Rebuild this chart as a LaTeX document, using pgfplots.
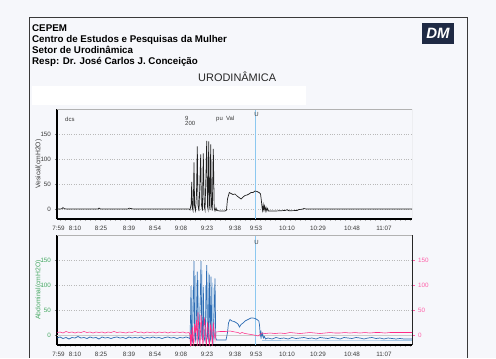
\documentclass[border=0pt]{standalone}
\usepackage{pgfplots}
\pgfplotsset{compat=1.18}
\usepackage{fontspec}
\setmainfont{Liberation Sans}
\definecolor{bg}{HTML}{F6F7FB}
\definecolor{framec}{HTML}{3A3A3A}
\definecolor{dtext}{HTML}{3A3A3A}
\definecolor{navy}{HTML}{1F2A44}
\definecolor{vesc}{HTML}{202020}
\definecolor{abdc}{HTML}{2E6DB4}
\definecolor{abdl}{HTML}{A6C8E8}
\definecolor{detc}{HTML}{FF2D87}
\definecolor{detl}{HTML}{FF5FA8}
\definecolor{greenl}{HTML}{45A862}
\definecolor{ucol}{HTML}{8CC8F0}
\pgfplotsset{
  common/.style={
    width=355bp, height=110bp, scale only axis,
    xmin=57, xmax=412, ymin=-20, ymax=200,
    ytick={0,50,100,150},
    tick label style={font=\fontsize{6.3}{7}\selectfont},
    /pgf/number format/assume math mode=true,
    tick align=outside,
    major tick length=2.5bp,
  },
  xaxisstyle/.style={
    axis x line*=bottom, axis y line*=left,
    axis line style={line width=1.2bp, black},
    xtick={58.5,75,101,129,155,181,207,235,256,287,318,352,384},
    xticklabels={7:59,8:10,8:25,8:39,8:54,9:08,9:23,9:38,9:53,10:10,10:29,10:48,11:07},
    xticklabel style={text=dtext, yshift=-1bp},
    major x tick style={draw=none},
    minor xtick={60,65,...,410},
    minor tick length=1.5bp,
    minor x tick style={gray!60, line width=0.4bp},
    ymajorgrids, grid style={dotted, gray!55, line width=0.6bp},
    ylabel style={at={(axis description cs:-0.052,0.5)}, anchor=center, font=\fontsize{6.8}{7}\selectfont},
  },
}
\begin{document}
\begin{tikzpicture}[x=1bp,y=1bp]
\fill[bg] (0,0) rectangle (496,358);
\useasboundingbox (0,0) rectangle (496,358);
\draw[framec, line width=0.9bp] (29.5,0) -- (29.5,341) -- (467.5,341) -- (467.5,0);
\fill[white] (32,253) rectangle (306,272);
\begin{scope}[every node/.style={anchor=base west, inner sep=0, text=black, font=\fontsize{9.8}{11}\selectfont\bfseries}]
\node at (32,327) {CEPEM};
\node at (32,316) {Centro de Estudos e Pesquisas da Mulher};
\node at (32,305) {Setor de Urodinâmica};
\node at (32,293.5) {Resp: Dr. José Carlos J. Conceição};
\end{scope}
\node[anchor=base west, inner sep=0, text=black!85, font=\fontsize{11}{12}\selectfont] at (198,277) {URODINÂMICA};
\fill[navy] (422,314) rectangle (454,335);
\node[text=white, font=\fontsize{15}{15}\selectfont\bfseries\itshape, inner sep=0] at (438,324.5) {DM};

% ---------- top axis: Vesical
\begin{axis}[common, xaxisstyle, at={(57bp,139bp)}, anchor=south west,
  yticklabel style={text=dtext},
  ylabel={Vesical(cmH2O)}, ylabel style={text=dtext}]
\addplot[ucol, line width=0.5bp] coordinates {(255.5,-20)(255.5,200)};
\addplot[vesc, line width=0.7bp] coordinates {
(57,0)(60,0)(62,0.5)(63,3)(64,1)(66,0)(80,0)(98,0)(99,2)(100,0.5)(101,0)(120,0)(128,0)(129,1.5)(131,1)(133,0)(160,0)(189,0)
(190,-2)(191.2,10)(191.7,54)(192.3,2)(193,-3)(193.6,40)(194,93)(194.6,5)(195.5,-3)(196.5,30)(197.3,125)(198,8)(199,-4)(200,60)(200.7,109)(201.4,10)(202.4,-3)(203.3,111)(204.2,5)(205,-2)(206,70)(206.7,136)(207.5,5)(208,0)(208.7,135)(209.5,8)(210,-2)(210.7,129)(211.5,6)(212.3,-3)(213.3,120)(214.2,2)(215,-4)(216,2)(216.7,-3)(220,-4)(225,-4)(226.5,-2)(227.5,20)(229.3,33)(231,31)(233,29)(235,30)(237,26)(239,23)(241,20)(243,24)(245,27)(247,28)(249,30)(251,33)(253,33)(255,36)(257,35)(259,33)(260.5,30)(261.3,18)(262,4)(262.6,-3)(263.2,8)(263.8,-1)(264.5,6)(265.2,-4)(266,3)(266.8,-4)(267.6,1)(268.5,-4)(275,-4)(280,-3.5)(285,-3)(287,-1.5)(289,-3.5)(297,-3)(299,-1)(302,-0.5)(304,1)(306,0)(310,0)(412,0)};
\begin{scope}[every node/.style={inner sep=0, text=dtext, font=\fontsize{6}{6.5}\selectfont}]
\node[anchor=west] at (axis cs:65,180) {dcs};
\node[anchor=west] at (axis cs:185,182) {9};
\node[anchor=west] at (axis cs:185,171) {200};
\node[anchor=west] at (axis cs:216,180) {pu\ \ Val};
\node at (axis cs:256.5,190) {U};
\end{scope}
\draw[gray!60, line width=0.5bp] (rel axis cs:0,1) -- (rel axis cs:1,1) -- (rel axis cs:1,0);
\end{axis}

% ---------- bottom axis: Abdominal
\begin{axis}[common, xaxisstyle, at={(57bp,13bp)}, anchor=south west,
  yticklabel style={text=greenl},
  ylabel={Abdominal(cmH2O)}, ylabel style={text=greenl}]
\addplot[ucol, line width=0.5bp] coordinates {(255.5,-20)(255.5,200)};
\addplot[gray!40, line width=0.4bp] coordinates {(57,0)(412,0)};
\addplot[abdl, line width=0.6bp] coordinates {(262,-10)(300,-10)(350,-10)(412,-10)};
\addplot[abdl, line width=0.7bp] coordinates {
(191.5,-8)(192.2,90)(192.8,-8)(195,-8)(195.4,120)(195.9,-8)(198.3,-8)(198.7,110)(199.2,-8)(201.6,-8)(202,130)(202.5,-8)(205,-8)(205.5,100)(206,-8)(207.8,-8)(208.2,125)(208.7,-8)(211.8,-8)(212.2,105)(212.7,-8)(213.4,-8)(213.8,95)(214.3,-8)};
\addplot[abdc, line width=0.7bp] coordinates {
(57,-6)(60,-4)(63,-7)(66,-5)(69,-8)(72,-5)(75,-6)(78,-3)(81,-6)(84,-5)(87,-7)(90,-4)(93,-6)(96,-5)(99,-8)(102,-4)(105,-6)(108,-5)(111,-7)(114,-5)(117,-4)(120,-6)(123,-5)(126,-7)(129,-4)(132,-6)(135,-5)(138,-6)(141,-4)(144,-7)(147,-5)(150,-6)(153,-4)(156,-6)(159,-5)(162,-7)(165,-5)(168,-4)(171,-6)(174,-5)(177,-7)(180,-5)(183,-6)(186,-4)(189,-6)
(190,-8)(190.6,40)(191,98)(191.6,-5)(192.5,-12)(193.3,60)(194,148)(194.7,0)(195.6,-10)(196.6,50)(197.3,127)(198,-2)(199,-12)(200.3,70)(201,148)(201.8,0)(202.5,-10)(203.3,97)(204,-5)(205,-12)(206,60)(206.7,140)(207.5,-3)(208.3,-10)(209.3,121)(210,-3)(210.5,-8)(211,117)(211.8,0)(213,-12)(214.2,50)(215,113)(215.7,-5)(216.5,-10)(220,-10)(226,-10)(227.5,5)(228.5,24)(230,31)(232,28)(234,27)(236,25)(238,22)(239.5,16)(241,21)(243,24)(245,28)(247,30)(249,32)(251,34)(253,34)(255,33)(257,31)(258.8,28)(259.5,20)(260.3,-2)(261,6)(261.8,-4)(262.6,3)(263.5,-6)(264.5,-3)(265.5,-8)
(268,-6)(272,-8)(276,-5)(280,-7)(284,-6)(288,-8)(292,-5)(296,-7)(300,-6)(304,-5)(308,-7)(312,-6)(316,-8)(320,-5)(324,-6)(328,-7)(332,-5)(336,-6)(340,-8)(344,-5)(348,-6)(352,-7)(356,-5)(360,-6)(364,-8)(368,-6)(372,-5)(376,-7)(380,-6)(384,-8)(388,-6)(392,-7)(396,-8)(400,-7)(404,-8)(408,-8)(412,-8)};
\node[inner sep=0, text=dtext, font=\fontsize{6}{6.5}\selectfont] at (axis cs:256.5,186) {U};
\draw[gray!60, line width=0.5bp] (rel axis cs:0,1) -- (rel axis cs:1,1);
\end{axis}

% ---------- bottom axis, right: Detrusor
\begin{axis}[common, at={(57bp,13bp)}, anchor=south west,
  axis x line=none, axis y line*=right,
  axis line style={line width=1bp, black!85},
  yticklabel style={text=detl},
  ytick style={detl}]
\addplot[detc, line width=0.55bp] coordinates {
(57,5)(60,6)(63,4)(66,7)(69,5)(72,6)(75,4)(78,6)(81,5)(84,7)(87,5)(90,6)(93,4)(96,6)(99,5)(102,6)(105,4)(108,6)(111,5)(114,7)(117,5)(120,6)(123,5)(126,4)(129,6)(132,5)(135,7)(138,5)(141,6)(144,4)(147,6)(150,5)(153,6)(156,4)(159,6)(162,5)(165,6)(168,4)(171,6)(174,5)(177,6)(180,5)(183,6)(186,4)(189,5)
(190,0)(190.5,-25)(191,10)(191.8,-25)(192.5,15)(193.8,-25)(194.5,22)(195.5,5)(196.5,30)(197.2,-25)(198,45)(199,8)(200,-25)(201,40)(202,10)(203,-25)(204.3,35)(205.5,10)(206.3,-25)(207.5,25)(208.5,5)(209.3,-25)(210.5,20)(211.5,8)(212.3,-25)(213.3,25)(214.2,5)(215,-10)(216,6)(220,7)(225,7)(230,8)(235,6)(238,5)(240,3)(242,5)(245,3)(248,2)(251,1)(254,0)(256,-1)(258,-2)(260,1)(262,4)
(265,3)(270,4)(275,3)(280,4)(285,3)(290,5)(295,4)(300,3)(305,4)(310,5)(315,4)(320,3)(325,4)(330,5)(335,4)(340,4)(345,5)(350,4)(355,5)(360,4)(365,5)(370,4)(375,5)(380,5)(385,4)(390,5)(395,5)(400,5)(405,5)(412,5)};
\node[rotate=-90, inner sep=0, text=detl, font=\fontsize{6.8}{7}\selectfont] at (axis description cs:1.059,0.5) {Detrusor(cmH2O)};
\end{axis}
\end{tikzpicture}
\end{document}
